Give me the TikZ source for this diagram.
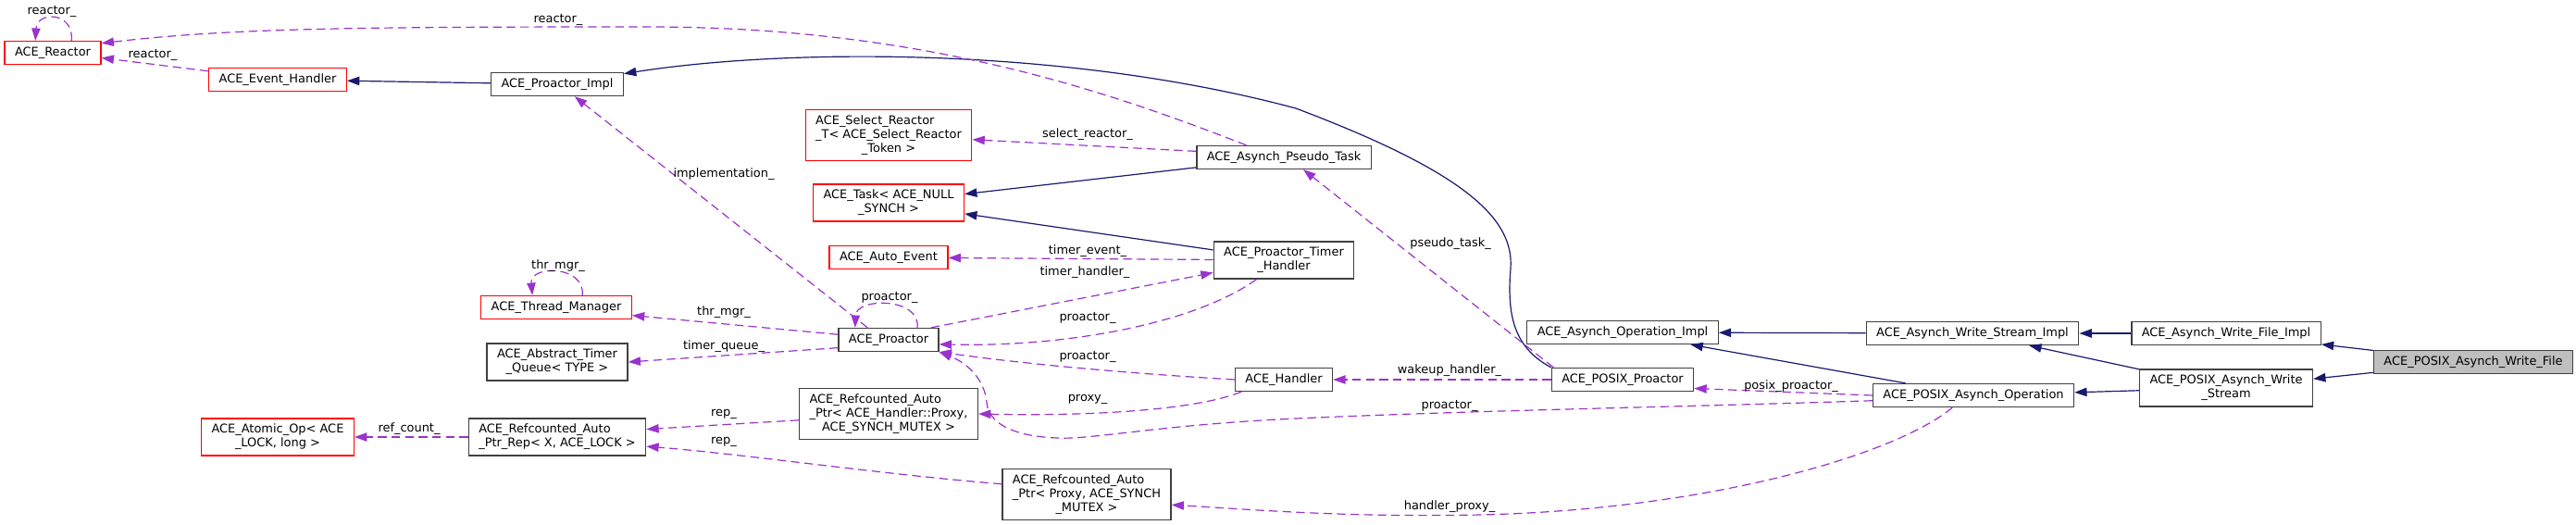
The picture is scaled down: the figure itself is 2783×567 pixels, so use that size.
\documentclass[tikz,border=0pt]{standalone}
\usepackage{fontspec}
\setmainfont{DejaVu Sans}
\usetikzlibrary{arrows.meta}
\definecolor{edgeblue}{HTML}{191970}
\definecolor{edgeorchid}{HTML}{9A32CD}
\newcommand{\clslines}[2]{\begin{tabular}{@{}l@{}}#1\\\multicolumn{1}{@{}c@{}}{#2}\end{tabular}}

\begin{document}
\begin{tikzpicture}[x=0.75pt,y=-0.75pt,
  cls/.style={draw=black!75,line width=1pt,fill=white,inner xsep=8.2pt,inner ysep=3.75pt,minimum height=18.75pt,font=\fontsize{9.7}{11.25}\selectfont},
  clsred/.style={cls,draw=red},
  derive/.style={edgeblue,line width=0.9pt,-{Triangle[length=10pt,width=7pt]}},
  member/.style={edgeorchid,line width=0.9pt,dash pattern=on 7pt off 4pt,-{Triangle[length=10pt,width=7pt]}},
  elabel/.style={font=\fontsize{9.7}{11.25}\selectfont,inner sep=1pt}]
\useasboundingbox (0,0) rectangle (2783,567);

% Classes
\node[clsred] (reactor) at (57,57) {ACE\_Reactor};
\node[clsred] (evhandler) at (300,86) {ACE\_Event\_Handler};
\node[cls] (pimpl) at (602,91) {ACE\_Proactor\_Impl};
\node[clsred] (selreactor) at (960,146) {\clslines{ACE\_Select\_Reactor\\\_T< ACE\_Select\_Reactor}{\_Token >}};
\node[clsred] (task) at (960,219) {\clslines{ACE\_Task< ACE\_NULL}{\_SYNCH >}};
\node[clsred] (autoevent) at (960,278) {ACE\_Auto\_Event};
\node[cls] (pseudotask) at (1387,170) {ACE\_Asynch\_Pseudo\_Task};
\node[cls] (timerhandler) at (1387,281) {\clslines{ACE\_Proactor\_Timer}{\_Handler}};
\node[clsred] (thrmgr) at (601,332) {ACE\_Thread\_Manager};
\node[cls] (timerqueue) at (602,391) {\clslines{ACE\_Abstract\_Timer}{\_Queue< TYPE >}};
\node[cls] (proactor) at (960,367) {ACE\_Proactor};
\node[cls] (handler) at (1387,410) {ACE\_Handler};
\node[cls] (autoptrhp) at (960,447) {\clslines{ACE\_Refcounted\_Auto\\\_Ptr< ACE\_Handler::Proxy,}{ACE\_SYNCH\_MUTEX >}};
\node[cls] (autoptrp) at (1174,534) {\clslines{ACE\_Refcounted\_Auto\\\_Ptr< Proxy, ACE\_SYNCH}{\_MUTEX >}};
\node[cls] (ptrrep) at (602,472) {\clslines{ACE\_Refcounted\_Auto}{\_Ptr\_Rep< X, ACE\_LOCK >}};
\node[clsred] (atomicop) at (300,472) {\clslines{ACE\_Atomic\_Op< ACE}{\_LOCK, long >}};
\node[cls] (opimpl) at (1753,359) {ACE\_Asynch\_Operation\_Impl};
\node[cls] (posixproactor) at (1753,410) {ACE\_POSIX\_Proactor};
\node[cls] (posixop) at (2132,427) {ACE\_POSIX\_Asynch\_Operation};
\node[cls] (wstreamimpl) at (2131,360) {ACE\_Asynch\_Write\_Stream\_Impl};
\node[cls] (posixwstream) at (2405,419) {\clslines{ACE\_POSIX\_Asynch\_Write}{\_Stream}};
\node[cls] (wfileimpl) at (2405,360) {ACE\_Asynch\_Write\_File\_Impl};
\node[cls,fill=black!25] (posixwfile) at (2672,391) {ACE\_POSIX\_Asynch\_Write\_File};

% Inheritance
\draw[derive] (pimpl) -- (evhandler);
\draw[derive] (pseudotask) -- (task);
\draw[derive] (timerhandler) -- (task);
\draw[derive] (posixproactor.north west) .. controls (1635,375) and (1628,340) .. (1632,290) .. controls (1636,235) and (1580,185) .. (1400,117) .. controls (1150,50) and (850,52) .. (pimpl.9);
\draw[derive] (wstreamimpl) -- (opimpl);
\draw[derive] (posixop) -- (opimpl);
\draw[derive] (posixwstream) -- (wstreamimpl);
\draw[derive] (posixwstream) -- (posixop);
\draw[derive] (wfileimpl) -- (wstreamimpl);
\draw[derive] (posixwfile) -- (wfileimpl);
\draw[derive] (posixwfile) -- (posixwstream);

% Members
\draw[member] (reactor.33) .. controls (80,12) and (40,12) .. (reactor.145);
\draw[member] (evhandler.173) -- (reactor.354);
\draw[member] (pseudotask.162) .. controls (1200,100) and (1000,29) .. (700,29) .. controls (400,29) and (250,30) .. (reactor.11);
\draw[member] (pseudotask.176) -- (selreactor.357);
\draw[member] (proactor.150) -- (pimpl.325);
\draw[member] (thrmgr.25) .. controls (632,286) and (572,286) .. (thrmgr.153);
\draw[member] (proactor.174) -- (thrmgr.354);
\draw[member] (proactor.189) -- (timerqueue.east);
\draw[member] (proactor.23) .. controls (995,321) and (925,321) .. (proactor.160);
\draw[member] (timerhandler) -- (autoevent);
\draw[member] (proactor.16) -- (timerhandler.190);
\draw[member] (timerhandler.215) .. controls (1290,350) and (1150,375) .. (proactor.355);
\draw[member] (handler.west) .. controls (1200,402) and (1100,392) .. (proactor.south east);
\draw[member] (handler.196) .. controls (1300,440) and (1200,450) .. (autoptrhp.east);
\draw[member] (posixproactor) -- (handler);
\draw[member] (posixproactor.170) -- (pseudotask.328);
\draw[member] (posixop.180) -- (posixproactor.353);
\draw[member] (posixop.183) .. controls (1800,440) and (1600,443) .. (1400,452) .. controls (1250,459) and (1180,475) .. (1142,473) .. controls (1090,471) and (1068,455) .. (1066,435) .. controls (1064,410) and (1045,392) .. (proactor.south east);
\draw[member] (posixop.210) .. controls (2050,490) and (1850,550) .. (1600,556) .. controls (1450,559) and (1350,550) .. (autoptrp.353);
\draw[member] (autoptrhp.184) -- (ptrrep.5);
\draw[member] (autoptrp.173) .. controls (950,512) and (800,490) .. (ptrrep.354);
\draw[member] (ptrrep) -- (atomicop);

% Edge labels
\node[elabel] (lreactorself) at (56,12) {reactor\_};
\node[elabel] (lreactorevh) at (165,59) {reactor\_};
\node[elabel] (lreactortask) at (603,21) {reactor\_};
\node[elabel] (lselreactor) at (1175,145) {select\_reactor\_};
\node[elabel] (limpl) at (782,188) {implementation\_};
\node[elabel] (lthrself) at (603,287) {thr\_mgr\_};
\node[elabel] (lthr) at (782,337) {thr\_mgr\_};
\node[elabel] (ltqueue) at (782,374) {timer\_queue\_};
\node[elabel] (lproself) at (961,321) {proactor\_};
\node[elabel] (ltevent) at (1175,271) {timer\_event\_};
\node[elabel] (lthandler) at (1172,294) {timer\_handler\_};
\node[elabel] (lprotimer) at (1175,343) {proactor\_};
\node[elabel] (lprohandler) at (1175,385) {proactor\_};
\node[elabel] (lproxy) at (1175,431) {proxy\_};
\node[elabel] (lwakeup) at (1566,400) {wakeup\_handler\_};
\node[elabel] (lpseudo) at (1567,263) {pseudo\_task\_};
\node[elabel] (lposixpro) at (1935,417) {posix\_proactor\_};
\node[elabel] (lproop) at (1566,438) {proactor\_};
\node[elabel] (lhproxy) at (1566,547) {handler\_proxy\_};
\node[elabel] (lrep1) at (782,447) {rep\_};
\node[elabel] (lrep2) at (782,477) {rep\_};
\node[elabel] (lrefcount) at (442,463) {ref\_count\_};

\end{tikzpicture}
\end{document}
